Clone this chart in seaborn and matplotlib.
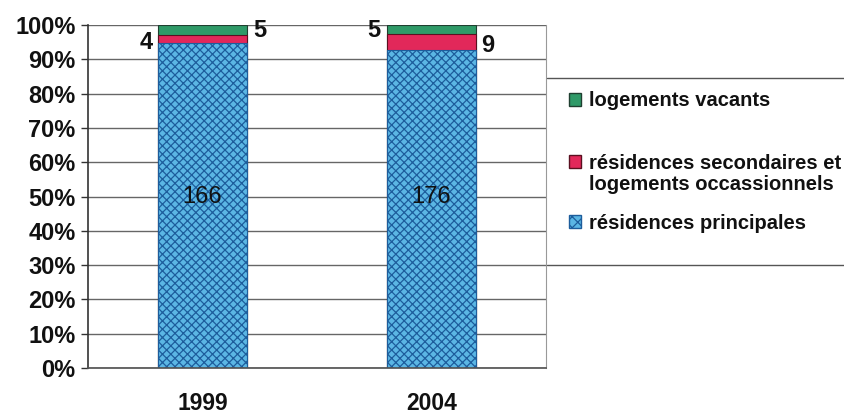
import matplotlib
matplotlib.use("Agg")
import matplotlib.pyplot as plt
import seaborn as sns
import numpy as np
import pandas as pd
from matplotlib.patches import Patch
from matplotlib.lines import Line2D

# ---- data ----
years = ["1999", "2004"]
principales = [166, 176]
secondaires = [4, 9]
vacants = [5, 5]
series_labels = ["logements vacants",
                 "résidences secondaires et\nlogements occassionnels",
                 "résidences principales"]
y_ticks = [0, 10, 20, 30, 40, 50, 60, 70, 80, 90, 100]

# ---- styles ----
c_green = "#2f9a68"
c_red = "#e2285a"
c_blue = "#5bb6e4"
c_blue_edge = "#1d5d9c"
sec_side = [-1, 1]   # side of the secondaires label per year
vac_side = [1, -1]   # side of the vacants label per year
legend_y_px = [101, 163, 223]
legend_line_gap_px = 21

sns.set_theme(style="white")
plt.rcParams["font.family"] = ["Liberation Sans", "DejaVu Sans"]
plt.rcParams["hatch.linewidth"] = 0.9

df = pd.DataFrame({"year": years, "p": principales, "s": secondaires, "v": vacants})
tot = df[["p", "s", "v"]].sum(axis=1)
df["p_pct"] = df["p"] / tot * 100
df["ps_pct"] = (df["p"] + df["s"]) / tot * 100
df["all_pct"] = (df["p"] + df["s"] + df["v"]) / tot * 100

fig = plt.figure(figsize=(8.44, 4.15), dpi=100)
ax = fig.add_axes([88 / 844, 1 - 368 / 415, (546 - 88) / 844, (368 - 25) / 415])

bw = 0.39
sns.barplot(data=df, x="year", y="all_pct", color=c_green, width=bw, ax=ax,
            edgecolor="#1f3f30", linewidth=0.8, saturation=1)
sns.barplot(data=df, x="year", y="ps_pct", color=c_red, width=bw, ax=ax,
            edgecolor="#5a1020", linewidth=0.8, saturation=1)
n_before = len(ax.patches)
sns.barplot(data=df, x="year", y="p_pct", color=c_blue, width=bw, ax=ax,
            edgecolor=c_blue_edge, linewidth=0.8, saturation=1)
for patch in ax.patches[n_before:]:
    patch.set_hatch("xxxx")

ax.set_ylim(0, 100)
ax.set_xlim(-0.5, 1.5)
ax.set_yticks(y_ticks)
ax.set_yticklabels([f"{t}%" for t in y_ticks], fontsize=17, fontweight="bold", color="#111111")
ax.set_xticks(range(len(years)))
ax.set_xticklabels(years, fontsize=16.5, fontweight="bold", color="#111111")
ax.tick_params(axis="x", length=0, pad=17)
ax.tick_params(axis="y", length=5, width=1, color="#333333", left=True, pad=4)
ax.set_xlabel("")
ax.set_ylabel("")
ax.set_axisbelow(True)
ax.yaxis.grid(True, color="#666666", linewidth=1.0)
ax.spines["left"].set_color("#333333")
ax.spines["left"].set_linewidth(1.2)
ax.spines["bottom"].set_color("#555555")
ax.spines["right"].set_color("#999999")
ax.spines["right"].set_linewidth(0.8)
ax.spines["top"].set_visible(False)

# labels
for i in range(len(years)):
    ax.text(i, 50, str(principales[i]), ha="center", va="center", fontsize=17, color="#111111")
    y_s = (df["p_pct"][i] + df["ps_pct"][i]) / 2
    y_v = (df["ps_pct"][i] + df["all_pct"][i]) / 2
    ax.text(i + sec_side[i] * 0.245, y_s - 1.0, str(secondaires[i]), ha="center", va="center",
            fontsize=17, fontweight="bold", color="#111111")
    ax.text(i + vac_side[i] * 0.25, y_v - 0.3, str(vacants[i]), ha="center", va="center",
            fontsize=17, fontweight="bold", color="#111111")

# legend (one entry per legend; multi-line label continues under the first line)
handles = [Patch(facecolor=c_green, edgecolor="#1f3f30"),
           Patch(facecolor=c_red, edgecolor="#5a1020"),
           Patch(facecolor=c_blue, edgecolor=c_blue_edge, hatch="xxx")]
extra_lines = []
for h, lab, ypx in zip(handles, series_labels, legend_y_px):
    lines = lab.split("\n")
    leg = fig.legend([h], [lines[0]], loc="center left",
                     bbox_to_anchor=(569 / 844, 1 - ypx / 415), frameon=False,
                     prop={"size": 14.5, "weight": "bold"}, handlelength=0.6, handleheight=0.6,
                     handletextpad=0.4, borderaxespad=0, borderpad=0)
    for t in leg.get_texts():
        t.set_color("#111111")
    extra_lines.append((leg, lines[1:], ypx))

fig.canvas.draw()
renderer = fig.canvas.get_renderer()
for leg, rest, ypx in extra_lines:
    if not rest:
        continue
    x0 = leg.get_texts()[0].get_window_extent(renderer).x0
    for k, line in enumerate(rest, start=1):
        fig.text(x0 / fig.bbox.width, 1 - (ypx + k * legend_line_gap_px) / 415, line,
                 ha="left", va="center", fontsize=14.5, fontweight="bold", color="#111111")

fig.add_artist(Line2D([547 / 844, 1], [1 - 78 / 415] * 2, color="#555555", lw=1))
fig.add_artist(Line2D([547 / 844, 1], [1 - 265 / 415] * 2, color="#555555", lw=1))

fig.savefig("out.png", dpi=100, facecolor="white")
